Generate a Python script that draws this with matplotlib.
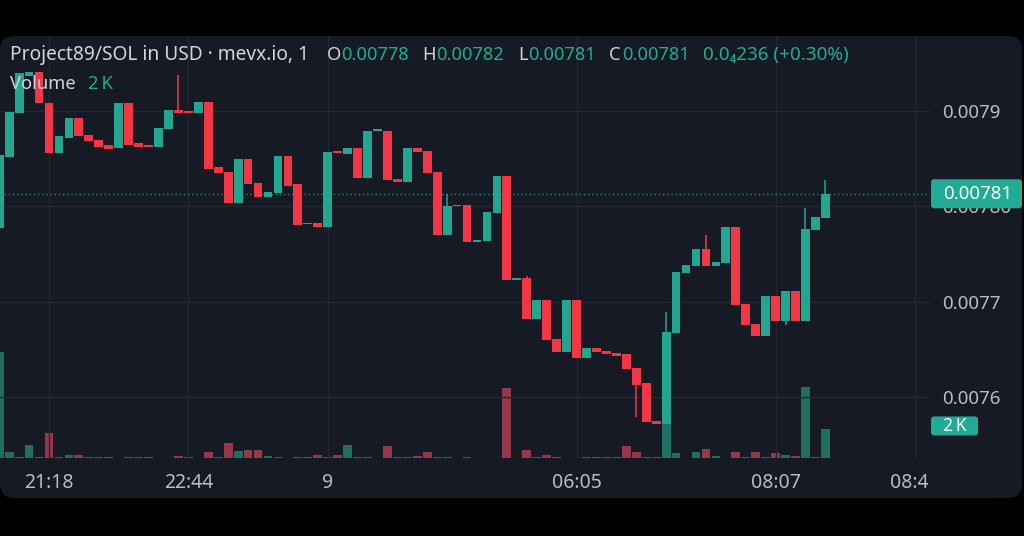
import matplotlib
matplotlib.use('Agg')
import matplotlib.pyplot as plt
from matplotlib.patches import FancyBboxPatch
from matplotlib.transforms import Bbox, IdentityTransform
import numpy as np

plt.rcParams['font.family'] = ['Noto Sans', 'DejaVu Sans']

# ---------------- data ----------------
opens = [
    0.007777, 0.007852, 0.007898, 0.007936, 0.007941, 0.007908, 0.007856, 0.007871, 0.007892, 0.007875,
    0.007869, 0.007864, 0.007861, 0.007908, 0.007866, 0.007864, 0.007862, 0.007881, 0.007901, 0.007899,
    0.007898, 0.007909, 0.007841, 0.007836, 0.007803, 0.007849, 0.007824, 0.007810, 0.007814, 0.007853,
    0.007823, 0.007781, 0.007782, 0.007778, 0.007857, 0.007855, 0.007861, 0.007830, 0.007879, 0.007879,
    0.007828, 0.007825, 0.007861, 0.007858, 0.007836, 0.007770, 0.007800, 0.007801, 0.007762, 0.007764,
    0.007793, 0.007832, 0.007723, 0.007725, 0.007682, 0.007702, 0.007661, 0.007647, 0.007702, 0.007641,
    0.007651, 0.007648, 0.007646, 0.007645, 0.007631, 0.007615, 0.007575, 0.007572, 0.007667, 0.007730,
    0.007737, 0.007755, 0.007737, 0.007741, 0.007778, 0.007698, 0.007677, 0.007664, 0.007706, 0.007680,
    0.007711, 0.007680, 0.007775, 0.007788]

closes = [
    0.007854, 0.007899, 0.007940, 0.007941, 0.007908, 0.007856, 0.007873, 0.007892, 0.007873, 0.007868,
    0.007862, 0.007860, 0.007908, 0.007864, 0.007862, 0.007862, 0.007882, 0.007901, 0.007898, 0.007898,
    0.007909, 0.007839, 0.007835, 0.007803, 0.007849, 0.007823, 0.007810, 0.007815, 0.007853, 0.007821,
    0.007780, 0.007782, 0.007778, 0.007857, 0.007856, 0.007861, 0.007830, 0.007879, 0.007880, 0.007827,
    0.007825, 0.007861, 0.007857, 0.007835, 0.007770, 0.007800, 0.007801, 0.007762, 0.007765, 0.007794,
    0.007832, 0.007723, 0.007724, 0.007682, 0.007702, 0.007660, 0.007647, 0.007702, 0.007641, 0.007651,
    0.007647, 0.007645, 0.007643, 0.007630, 0.007613, 0.007574, 0.007572, 0.007668, 0.007731, 0.007738,
    0.007755, 0.007737, 0.007742, 0.007778, 0.007697, 0.007676, 0.007664, 0.007706, 0.007680, 0.007711,
    0.007680, 0.007776, 0.007789, 0.007813]

highs = [
    0.007854, 0.007899, 0.007940, 0.007941, 0.007941, 0.007908, 0.007873, 0.007892, 0.007892, 0.007875,
    0.007869, 0.007864, 0.007908, 0.007908, 0.007866, 0.007864, 0.007882, 0.007901, 0.007937, 0.007899,
    0.007909, 0.007909, 0.007841, 0.007836, 0.007849, 0.007849, 0.007824, 0.007815, 0.007853, 0.007853,
    0.007823, 0.007782, 0.007782, 0.007857, 0.007857, 0.007861, 0.007861, 0.007879, 0.007880, 0.007879,
    0.007828, 0.007861, 0.007861, 0.007858, 0.007836, 0.007813, 0.007801, 0.007801, 0.007765, 0.007794,
    0.007832, 0.007832, 0.007724, 0.007727, 0.007702, 0.007702, 0.007661, 0.007702, 0.007702, 0.007651,
    0.007651, 0.007648, 0.007646, 0.007645, 0.007631, 0.007615, 0.007575, 0.007689, 0.007731, 0.007738,
    0.007755, 0.007770, 0.007742, 0.007778, 0.007778, 0.007698, 0.007677, 0.007706, 0.007706, 0.007711,
    0.007711, 0.007798, 0.007789, 0.007827]

lows = [
    0.007777, 0.007852, 0.007898, 0.007936, 0.007908, 0.007856, 0.007856, 0.007871, 0.007873, 0.007868,
    0.007862, 0.007860, 0.007861, 0.007864, 0.007862, 0.007862, 0.007862, 0.007881, 0.007898, 0.007898,
    0.007898, 0.007839, 0.007835, 0.007803, 0.007803, 0.007823, 0.007810, 0.007810, 0.007814, 0.007821,
    0.007780, 0.007781, 0.007778, 0.007778, 0.007856, 0.007855, 0.007830, 0.007830, 0.007879, 0.007827,
    0.007825, 0.007825, 0.007857, 0.007835, 0.007770, 0.007770, 0.007800, 0.007762, 0.007762, 0.007764,
    0.007793, 0.007723, 0.007723, 0.007682, 0.007682, 0.007660, 0.007647, 0.007647, 0.007641, 0.007641,
    0.007647, 0.007645, 0.007643, 0.007630, 0.007579, 0.007574, 0.007572, 0.007572, 0.007667, 0.007730,
    0.007737, 0.007737, 0.007737, 0.007741, 0.007697, 0.007676, 0.007664, 0.007664, 0.007680, 0.007676,
    0.007680, 0.007680, 0.007775, 0.007788]

volumes_k = [
    7.30, 0.41, 0.10, 0.90, 0.07, 1.72, 0.07, 0.21, 0.21, 0.07,
    0.09, 0.07, 0.03, 0.09, 0.07, 0.05, 0.03, 0.03, 0.16, 0.05,
    0.03, 0.43, 0.05, 1.03, 0.46, 0.57, 0.57, 0.16, 0.05, 0.03,
    0.09, 0.09, 0.19, 0.05, 0.23, 0.90, 0.09, 0.05, 0.03, 0.85,
    0.05, 0.07, 0.16, 0.39, 0.05, 0.05, 0.03, 0.05, 0.03, 0.03,
    0.03, 4.83, 0.03, 0.57, 0.05, 0.23, 0.07, 0.03, 0.03, 0.09,
    0.09, 0.05, 0.09, 0.83, 0.39, 0.09, 0.09, 2.34, 0.32, 0.03,
    0.43, 0.62, 0.16, 0.03, 0.39, 0.05, 0.39, 0.05, 0.32, 0.23,
    0.16, 4.88, 0.05, 2.00]

time_tick_idx = [5, 19, 33, 58, 78, 92]
time_tick_labels = ['21:18', '22:44', '9', '06:05', '08:07', '08:45']
price_ticks = [0.0076, 0.0077, 0.0078, 0.0079]
price_tick_labels = ['0.0076', '0.0077', '0.00780', '0.0079']

title = 'Project89/SOL in USD \u00b7 mevx.io, 1'
ohlc_labels = ['O', 'H', 'L', 'C']
ohlc_values = ['0.00778', '0.00782', '0.00781', '0.00781']
change_text = '0.0\u2084236 (+0.30%)'
last_price_label = '0.00781'
last_volume_label = '2\u2009K'

# ---------------- style ----------------
BG_OUT = '#000000'
PANEL = '#161a25'
GRID = '#232733'
GREEN = '#22a68f'
RED = '#f23645'
GREEN_V = '#1f6f62'
RED_V = '#93394a'
TXT = '#d1d4dc'
AXTXT = '#b8bbc4'
TEAL = '#22ab94'

W, H = 1024, 536
fig = plt.figure(figsize=(W / 100, H / 100), dpi=100, facecolor=BG_OUT)

panel = FancyBboxPatch((0, H - 498), 1022, 462, boxstyle='round,pad=0,rounding_size=14',
                       transform=IdentityTransform(), facecolor=PANEL, edgecolor='none', zorder=-5)
fig.add_artist(panel)

ax_left, ax_right, ax_top, ax_bot = 0, 930, 37, 458
rect = [ax_left / W, (H - ax_bot) / H, (ax_right - ax_left) / W, (ax_bot - ax_top) / H]

axv = fig.add_axes(rect)
ax = fig.add_axes(rect, sharex=axv)
for a in (axv, ax):
    a.patch.set_alpha(0)
    for s in a.spines.values():
        s.set_visible(False)

n = len(opens)
x = np.arange(n)
o = np.array(opens); c = np.array(closes)
hi = np.array(highs); lo = np.array(lows)
up = c >= o
colors = np.where(up, GREEN, RED)
vcolors = np.where(up, GREEN_V, RED_V)

# volume
axv.bar(x, volumes_k, width=0.88, color=vcolors, zorder=2, linewidth=0)
axv.set_ylim(0, 29.0)
axv.set_yticks([])
axv.tick_params(axis='x', length=0, labelbottom=False)

# price
ax.set_xlim(0.077, 93.51)
ax.set_ylim(0.0075363, 0.0079772)
ax.set_axisbelow(True)
ax.grid(True, color=GRID, linewidth=1)
body_bottom = np.minimum(o, c)
body_h = np.maximum(np.abs(c - o), 1.4e-6)
ax.vlines(x, lo, hi, colors=colors, linewidth=1.1, zorder=3)
ax.bar(x, body_h, bottom=body_bottom, width=0.88, color=colors, linewidth=0, zorder=4)

ax.axhline(closes[-1], color=TEAL, linestyle=(0, (1, 2)), linewidth=1, alpha=0.75, zorder=2)

ax.yaxis.tick_right()
ax.set_yticks(price_ticks)
ax.set_yticklabels(price_tick_labels)
ax.tick_params(axis='y', length=0, pad=9.0, labelcolor=AXTXT, labelsize=13.5)

ax.set_xticks(time_tick_idx)
ax.set_xticklabels(time_tick_labels)
ax.tick_params(axis='x', length=0, pad=10.5, labelcolor=AXTXT, labelsize=14)
clipbox = Bbox.from_extents(0, 0, 928, H)
for lbl in ax.get_xticklabels():
    lbl.set_clip_box(clipbox)
    lbl.set_clip_on(True)

# last price tag
y_last = ax.transData.transform((0, closes[-1]))[1]
tag = FancyBboxPatch((931, y_last - 14.5), 91, 29, boxstyle='round,pad=0,rounding_size=3',
                     transform=IdentityTransform(), facecolor=TEAL, edgecolor='none', zorder=5)
fig.add_artist(tag)
fig.text(943, y_last, last_price_label, transform=IdentityTransform(), ha='left', va='center',
         color='white', fontsize=13.5, zorder=6)

# last volume tag
yv = axv.transData.transform((0, volumes_k[-1]))[1] + 3
vtag = FancyBboxPatch((931, yv - 9.5), 47, 19, boxstyle='round,pad=0,rounding_size=3',
                      transform=IdentityTransform(), facecolor=TEAL, edgecolor='none', zorder=5)
fig.add_artist(vtag)
fig.text(954.5, yv, last_volume_label, transform=IdentityTransform(), ha='center', va='center',
         color='white', fontsize=12.5, zorder=6)

# header
def htext(px, py, s, color, size=13.2):
    fig.text(px, H - py, s, transform=IdentityTransform(), ha='left', va='center',
             color=color, fontsize=size, zorder=6)

htext(10, 55, title, TXT, 13.8)
lx = [327, 422, 518, 609]
vx = [341, 436, 528, 622]
for lab, val, a, b in zip(ohlc_labels, ohlc_values, lx, vx):
    htext(a, 55, lab, TXT)
    htext(b, 55, val, TEAL)
htext(703, 55, change_text, TEAL, 13.6)
htext(10, 84, 'Volume', TXT)
htext(88, 84, last_volume_label, TEAL)

fig.savefig('out.png', dpi=100, facecolor=BG_OUT)
